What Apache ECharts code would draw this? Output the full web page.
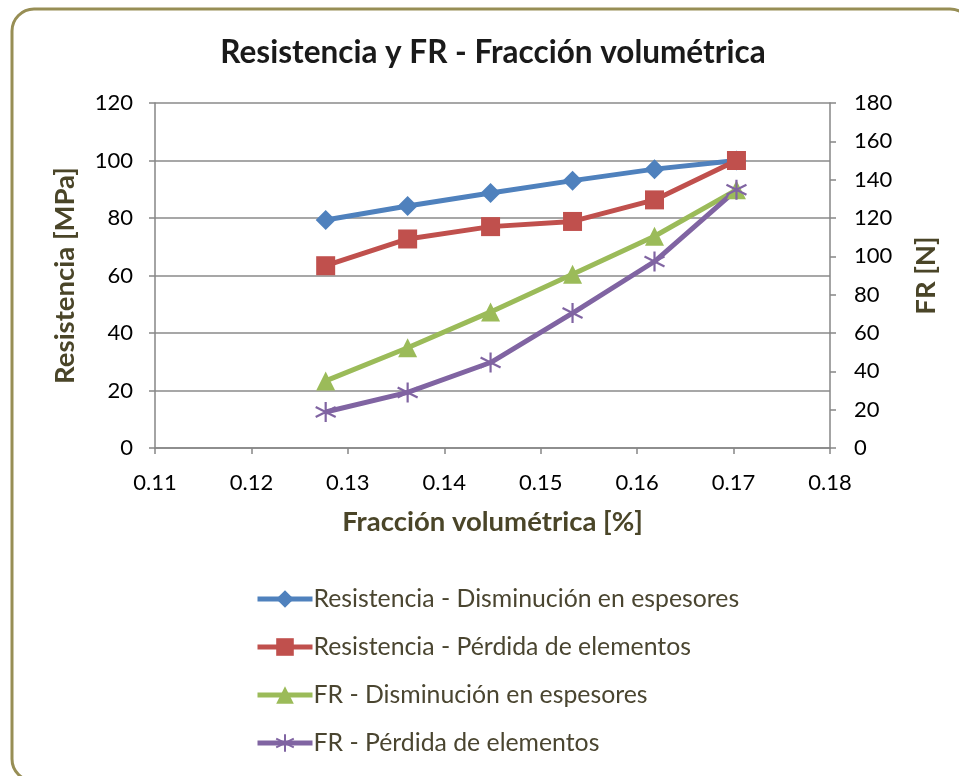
<!DOCTYPE html>
<html>
<head>
<meta charset="utf-8">
<script src="https://cdn.jsdelivr.net/npm/echarts@6/dist/echarts.min.js"></script>
<style>
  html, body { margin: 0; padding: 0; background: #fff; }
  #chart { width: 959px; height: 776px; }
</style>
</head>
<body>
<div id="chart"></div>
<script>
// Volume fraction [%] (shared x values)
const fraccion = [0.1277, 0.1362, 0.1448, 0.1533, 0.1618, 0.1703];
// Strength [MPa] – left axis
const resDisminucion = [79.3, 84.2, 88.7, 93.0, 97.0, 100.0];
const resPerdida = [63.4, 72.7, 77.0, 78.8, 86.3, 100.0];
// FR [N] – right axis
const frDisminucion = [35.0, 52.3, 71.0, 90.6, 110.5, 134.7];
const frPerdida = [18.8, 29.0, 44.6, 70.4, 97.3, 134.7];

const seriesNames = [
  'Resistencia - Disminución en espesores',
  'Resistencia - Pérdida de elementos',
  'FR - Disminución en espesores',
  'FR - Pérdida de elementos'
];
const xTicks = { min: 0.11, max: 0.18, step: 0.01 };
const leftTicks = { min: 0, max: 120, step: 20 };
const rightTicks = { min: 0, max: 180, step: 20 };

const FONT = 'Lato, "Open Sans", sans-serif';
const pairs = ys => ys.map((y, i) => [fraccion[i], y]);

// six-armed star marker, stroked only
const asterisk = 'path://M0,-10L0,10M-8.66,-5L8.66,5M-8.66,5L8.66,-5';

function lineSeries(name, ys, yAxisIndex, color, symbol, size, extra) {
  return Object.assign({
    name: name,
    type: 'line',
    yAxisIndex: yAxisIndex,
    data: pairs(ys),
    symbol: symbol,
    symbolSize: size,
    lineStyle: { color: color, width: 5 },
    itemStyle: { color: color },
    z: 3
  }, extra || {});
}

const chart = echarts.init(document.getElementById('chart'), null, { renderer: 'canvas' });

const axisLineStyle = { show: true, lineStyle: { color: '#868686', width: 1.5 } };
const tickStyle = { show: true, length: 6, lineStyle: { color: '#868686', width: 1.5 } };
const labelStyle = { color: '#000', fontSize: 22, fontFamily: FONT };
const nameStyle = { color: '#4a4528', fontSize: 27.5, fontWeight: 'bold', fontFamily: FONT };

chart.setOption({
  animation: false,
  graphic: [{
    type: 'rect',
    shape: { x: 12, y: 9, width: 960, height: 772, r: 22 },
    style: { fill: 'none', stroke: '#978e55', lineWidth: 3 },
    silent: true,
    z: -1
  }],
  title: {
    text: 'Resistencia y FR - Fracción volumétrica',
    left: 488,
    top: 32,
    textAlign: 'center',
    textStyle: { color: '#1a1a1a', fontSize: 31.5, fontWeight: 'bold', fontFamily: FONT }
  },
  grid: { left: 155, right: 129, top: 103, height: 345 },
  xAxis: {
    type: 'value',
    min: xTicks.min,
    max: xTicks.max,
    interval: xTicks.step,
    name: 'Fracción volumétrica [%]',
    nameLocation: 'middle',
    nameGap: 60,
    nameTextStyle: nameStyle,
    axisLine: axisLineStyle,
    axisTick: tickStyle,
    splitLine: { show: false },
    axisLabel: Object.assign({ margin: 24, formatter: v => v.toFixed(2) }, labelStyle)
  },
  yAxis: [{
    type: 'value',
    position: 'left',
    min: leftTicks.min,
    max: leftTicks.max,
    interval: leftTicks.step,
    name: 'Resistencia [MPa]',
    nameLocation: 'middle',
    nameGap: 76,
    nameTextStyle: nameStyle,
    axisLine: axisLineStyle,
    axisTick: tickStyle,
    splitLine: { show: true, lineStyle: { color: '#8a8a8a', width: 1.5 } },
    axisLabel: Object.assign({ margin: 22 }, labelStyle)
  }, {
    type: 'value',
    position: 'right',
    min: rightTicks.min,
    max: rightTicks.max,
    interval: rightTicks.step,
    name: 'FR [N]',
    nameLocation: 'middle',
    nameGap: 82,
    nameRotate: 90,
    nameTextStyle: nameStyle,
    axisLine: axisLineStyle,
    axisTick: tickStyle,
    splitLine: { show: false },
    axisLabel: Object.assign({ margin: 24 }, labelStyle)
  }],
  legend: {
    orient: 'vertical',
    left: 255,
    top: 584,
    padding: 0,
    itemWidth: 55,
    itemHeight: 22,
    itemGap: 18,
    data: seriesNames,
    lineStyle: { width: 5 },
    textStyle: { color: '#4a4530', fontSize: 24.8, fontFamily: FONT, lineHeight: 30, padding: [0, 0, 0, -4] }
  },
  series: [
    lineSeries(seriesNames[0], resDisminucion, 0, '#4f81bd', 'diamond', 20),
    lineSeries(seriesNames[1], resPerdida, 0, '#c0504d', 'rect', 19),
    lineSeries(seriesNames[2], frDisminucion, 1, '#9bbb59', 'triangle', 19),
    lineSeries(seriesNames[3], frPerdida, 1, '#8064a2', asterisk, 20, {
      itemStyle: { color: '#8064a2', borderColor: '#8064a2', borderWidth: 2.2 }
    })
  ]
});
</script>
</body>
</html>
